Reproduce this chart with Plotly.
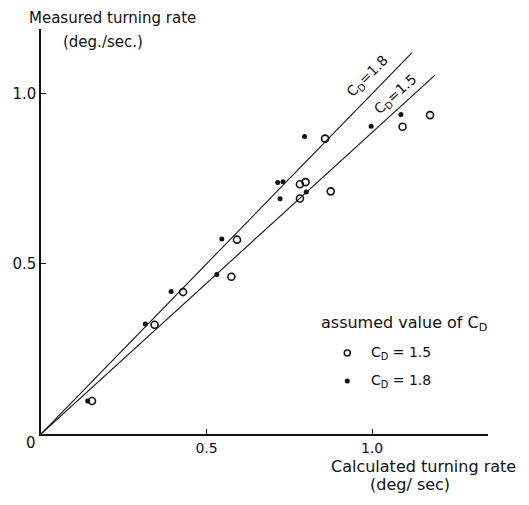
import plotly.graph_objects as go

# Measured vs calculated turning rate (deg/sec)
calc_cd15 = [0.154, 0.343, 0.429, 0.575, 0.592, 0.782, 0.799, 0.782, 0.875, 0.858, 1.092, 1.175]
meas_cd15 = [0.097, 0.321, 0.417, 0.462, 0.571, 0.734, 0.740, 0.692, 0.713, 0.868, 0.903, 0.937]

calc_cd18 = [0.141, 0.315, 0.393, 0.531, 0.546, 0.715, 0.731, 0.722, 0.801, 0.796, 0.997, 1.087]
meas_cd18 = [0.097, 0.323, 0.419, 0.469, 0.573, 0.739, 0.741, 0.691, 0.711, 0.874, 0.904, 0.939]

# Theoretical lines through the origin: slope and end of drawn segment
line_names = ["C<sub>D</sub>=1.8", "C<sub>D</sub>=1.5"]
line_slopes = [1.0, 0.886]
line_x_end = [1.12, 1.19]

x_ticks = [0.5, 1.0]
y_ticks = [0.5, 1.0]

FONT = "DejaVu Sans"
INK = "#111111"

fig = go.Figure()

for slope, xe in zip(line_slopes, line_x_end):
    fig.add_trace(go.Scatter(
        x=[0, xe], y=[0, slope * xe], mode="lines",
        line=dict(color=INK, width=1.1), showlegend=False, hoverinfo="skip"))

fig.add_trace(go.Scatter(
    x=calc_cd15, y=meas_cd15, mode="markers", showlegend=False,
    marker=dict(symbol="circle-open", size=7, color=INK, line=dict(width=1.6))))
fig.add_trace(go.Scatter(
    x=calc_cd18, y=meas_cd18, mode="markers", showlegend=False,
    marker=dict(symbol="circle", size=5, color=INK)))

# Legend drawn as markers plus text inside the plot
fig.add_trace(go.Scatter(
    x=[0.925], y=[0.238], mode="markers", showlegend=False, hoverinfo="skip",
    marker=dict(symbol="circle-open", size=6, color=INK, line=dict(width=1.5))))
fig.add_trace(go.Scatter(
    x=[0.925], y=[0.156], mode="markers", showlegend=False, hoverinfo="skip",
    marker=dict(symbol="circle", size=5, color=INK)))

data_notes = [
    dict(x=1.095, y=0.325, text="assumed value of C<sub>D</sub>", size=16),
    dict(x=0.99, y=0.238, text="C<sub>D</sub> = 1.5", xanchor="left", size=14),
    dict(x=0.99, y=0.156, text="C<sub>D</sub> = 1.8", xanchor="left", size=14),
    # Line labels along each line
    dict(x=0.985, y=1.05, text=line_names[0], textangle=-45, size=14),
    dict(x=1.07, y=0.997, text=line_names[1], textangle=-42, size=14),
    # Origin label
    dict(x=0, y=0, xshift=-10, yshift=-9, text="0", size=15),
]
paper_notes = [
    dict(x=-0.031, y=1.027, text="Measured turning rate", xanchor="left", size=15),
    dict(x=0.044, y=0.968, text="(deg./sec.)", xanchor="left", size=15),
    dict(x=0.855, y=-0.08, text="Calculated turning rate", size=16),
    dict(x=0.825, y=-0.125, text="(deg/ sec)", size=16),
]

annotations = []
for notes, ref in ((data_notes, ("x", "y")), (paper_notes, ("paper", "paper"))):
    for n in notes:
        n = dict(n)
        size = n.pop("size")
        n.setdefault("xanchor", "center")
        n.update(xref=ref[0], yref=ref[1], yanchor="middle", showarrow=False,
                 font=dict(size=size, family=FONT, color=INK))
        annotations.append(n)

fig.update_layout(
    width=529, height=505,
    margin=dict(l=37, r=41, t=29, b=71),
    paper_bgcolor="white", plot_bgcolor="white",
    annotations=annotations,
    xaxis=dict(range=[0, 1.35], showgrid=False, zeroline=False,
               showline=True, linecolor=INK, linewidth=1.5,
               ticks="inside", ticklen=5, tickcolor=INK,
               tickvals=x_ticks, ticktext=["0.5", "1.0"],
               tickfont=dict(size=14, family=FONT, color=INK)),
    yaxis=dict(range=[0, 1.19], showgrid=False, zeroline=False,
               showline=True, linecolor=INK, linewidth=1.5,
               ticks="inside", ticklen=5, tickcolor=INK,
               tickvals=y_ticks, ticktext=["0.5", "1.0"],
               tickfont=dict(size=15, family=FONT, color=INK)),
)

fig.write_html("out.html")
